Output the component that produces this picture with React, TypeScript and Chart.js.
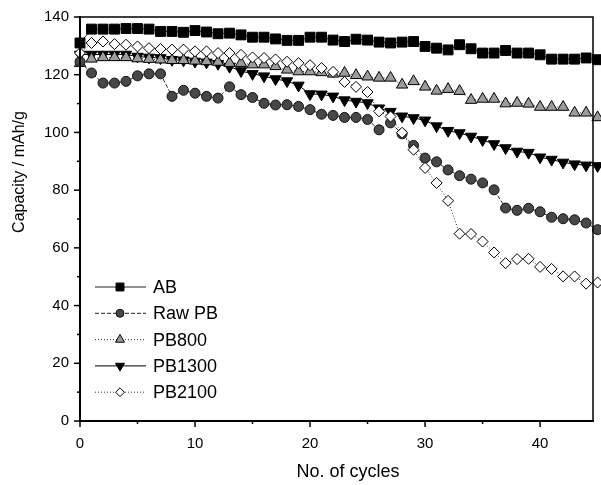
import React, { useEffect, useRef } from 'react';
import { Chart, registerables } from 'chart.js';
import { drawPoint } from 'chart.js/helpers';

Chart.register(...registerables);

const cycles = [0, 1, 2, 3, 4, 5, 6, 7, 8, 9, 10, 11, 12, 13, 14, 15, 16, 17, 18, 19, 20, 21, 22, 23, 24, 25, 26, 27, 28, 29, 30, 31, 32, 33, 34, 35, 36, 37, 38, 39, 40, 41, 42, 43, 44, 45];

const abValues = [131, 135.8, 135.8, 135.8, 136, 136, 135.8, 135, 135, 134.7, 135.3, 134.8, 134.2, 134.4, 133.8, 133.0, 133.0, 132.4, 131.9, 131.9, 133.0, 133.0, 132, 131.5, 132.3, 132, 131.3, 131, 131.3, 131.5, 129.8, 129.2, 128.6, 130.4, 129, 127.5, 127.5, 128.4, 127.5, 127.5, 126.9, 125.4, 125.4, 125.4, 125.8, 125.2];

const rawPbValues = [124.5, 120.6, 117.1, 117.1, 117.7, 119.6, 120.3, 120.3, 112.5, 114.6, 113.6, 112.5, 111.9, 115.8, 113.1, 112.1, 110.1, 109.5, 109.6, 109, 107.9, 106.3, 105.9, 105.2, 105.2, 104.5, 100.9, 103.3, 99.5, 95.5, 91.1, 89.8, 87, 85, 83.8, 82.5, 80.1, 73.8, 73, 73.7, 72.5, 70.6, 70.1, 69.7, 68.6, 66.3];

const pb800Values = [124, 125.5, 126, 126, 126, 125.6, 125.4, 125.2, 125, 125, 124.8, 124.6, 124.4, 124, 124, 123.5, 123.5, 122.9, 121.7, 121.1, 121.1, 120.8, 120.3, 120.6, 119.8, 119.3, 118.9, 118.9, 116.5, 117.7, 115.8, 114.4, 115, 114.3, 111.2, 111.6, 111.6, 110, 110.2, 109.9, 108.8, 108.8, 108.8, 106.8, 106.8, 105.2];

const pb1300Values = [127, 127, 127, 127, 127, 126.3, 126, 125.8, 125.2, 125, 124.6, 124.3, 123.8, 122.8, 121.3, 120.3, 119.5, 118.5, 117.8, 116.3, 113.3, 113.2, 112.5, 111.2, 110.7, 110.2, 108.4, 107.2, 105.6, 105, 104.2, 102.2, 100.6, 99.8, 98.6, 97.4, 96, 94.6, 93.4, 93, 91.4, 90.6, 89.6, 89, 88.6, 88.4];

const pb2100Values = [127.5, 131, 131.5, 130.6, 130.4, 129.8, 129.2, 128.9, 128.7, 128.7, 128.1, 128.1, 127.5, 127.5, 126.9, 126, 125.8, 125.3, 124.5, 124, 123.3, 122.3, 121, 117.5, 115.8, 114, 107.3, 105.5, 99.9, 94, 87.7, 82.5, 76.3, 64.9, 64.8, 62.2, 58.4, 54.7, 56.1, 56.2, 53.4, 52.7, 50.1, 50.1, 47.6, 48];

const seriesNames = ['AB', 'Raw PB', 'PB800', 'PB1300', 'PB2100'];
const xTickValues = [0, 10, 20, 30, 40];
const yTickValues = [0, 20, 40, 60, 80, 100, 120, 140];
const xTitle = 'No. of cycles';
const yTitle = 'Capacity / mAh/g';

const FONT = '"Liberation Sans", Arial, Helvetica, sans-serif';

const styles = [
  { pointStyle: 'rect', rotation: 0, radius: 7, bg: '#000', border: '#000', dash: [], lineColor: '#222' },
  { pointStyle: 'circle', rotation: 0, radius: 5, bg: '#474747', border: '#111', dash: [4, 2], lineColor: '#222' },
  { pointStyle: 'triangle', rotation: 0, radius: 6.5, bg: '#9c9c9c', border: '#000', dash: [1, 2], lineColor: '#333' },
  { pointStyle: 'triangle', rotation: 180, radius: 6.5, bg: '#000', border: '#000', dash: [], lineColor: '#000' },
  { pointStyle: 'rectRot', rotation: 0, radius: 5.5, bg: '#fff', border: '#000', dash: [1, 2], lineColor: '#333' },
];

const allValues = [abValues, rawPbValues, pb800Values, pb1300Values, pb2100Values];

const decorPlugin = {
  id: 'decor',
  afterDatasetsDraw(chart: any) {
    const { ctx, chartArea: a, scales } = chart;
    const xs = scales.x;
    const ys = scales.y;
    ctx.save();
    ctx.strokeStyle = '#000';
    // frame
    ctx.lineWidth = 2;
    ctx.beginPath();
    ctx.moveTo(a.left, a.top - 1);
    ctx.lineTo(a.left, a.bottom);
    ctx.lineTo(a.right + 1, a.bottom);
    ctx.stroke();
    ctx.lineWidth = 1.5;
    ctx.beginPath();
    ctx.moveTo(a.left, a.top);
    ctx.lineTo(a.right, a.top);
    ctx.lineTo(a.right, a.bottom);
    ctx.stroke();
    // x ticks
    ctx.lineWidth = 1.5;
    for (let v = 0; v <= 45; v += 5) {
      const px = xs.getPixelForValue(v);
      if (px > a.right) break;
      const len = v % 10 === 0 ? 6 : 3;
      ctx.beginPath();
      ctx.moveTo(px, a.bottom);
      ctx.lineTo(px, a.bottom + len);
      ctx.stroke();
    }
    // y ticks
    for (let v = 0; v <= 140; v += 10) {
      const py = ys.getPixelForValue(v);
      const len = v % 20 === 0 ? 6 : 3;
      ctx.beginPath();
      ctx.moveTo(a.left, py);
      ctx.lineTo(a.left - len, py);
      ctx.stroke();
    }
    ctx.restore();
  },
  afterDraw(chart: any) {
    const { ctx } = chart;
    ctx.save();
    // legend
    const rowY0 = 287;
    const rowGap = 26.3;
    chart.data.datasets.forEach((ds: any, i: number) => {
      const y = rowY0 + i * rowGap;
      const st = styles[i];
      ctx.save();
      ctx.strokeStyle = st.lineColor;
      ctx.lineWidth = 1;
      ctx.setLineDash(st.dash);
      ctx.beginPath();
      ctx.moveTo(95, y);
      ctx.lineTo(146, y);
      ctx.stroke();
      ctx.setLineDash([]);
      ctx.fillStyle = st.bg;
      ctx.strokeStyle = st.border;
      ctx.lineWidth = 1;
      drawPoint(ctx, { pointStyle: st.pointStyle, rotation: st.rotation, radius: st.radius * 0.8, borderWidth: 1 }, 120, y);
      ctx.restore();
      ctx.fillStyle = '#000';
      ctx.font = `18px ${FONT}`;
      ctx.textAlign = 'left';
      ctx.textBaseline = 'middle';
      ctx.fillText(ds.label, 153, y + 1);
    });
    // axis titles
    ctx.fillStyle = '#000';
    ctx.font = `18px ${FONT}`;
    ctx.textAlign = 'center';
    ctx.textBaseline = 'middle';
    ctx.fillText(xTitle, 348, 472);
    ctx.translate(20, 172);
    ctx.rotate(-Math.PI / 2);
    ctx.font = `16px ${FONT}`;
    ctx.fillText(yTitle, 0, 0);
    ctx.restore();
  },
};

export default function App() {
  const canvasRef = useRef<HTMLCanvasElement | null>(null);

  useEffect(() => {
    const canvas = canvasRef.current;
    if (!canvas) return;
    const datasets = seriesNames.map((name, i) => {
      const st = styles[i];
      return {
        label: name,
        data: cycles.map((c, j) => ({ x: c, y: allValues[i][j] })),
        borderColor: st.lineColor,
        borderWidth: 1,
        borderDash: st.dash,
        backgroundColor: st.bg,
        pointStyle: st.pointStyle,
        rotation: st.rotation,
        pointRadius: st.radius,
        pointBackgroundColor: st.bg,
        pointBorderColor: st.border,
        pointBorderWidth: 1,
        tension: 0,
        clip: false,
        order: i === 4 ? -1 : i,
      };
    });

    const chart = new Chart(canvas, {
      type: 'line',
      data: { datasets },
      options: {
        animation: false,
        responsive: false,
        devicePixelRatio: 1,
        layout: { padding: { top: 17, right: 5, left: 0, bottom: 0 } },
        plugins: { legend: { display: false }, tooltip: { enabled: false } },
        scales: {
          x: {
            type: 'linear',
            min: 0,
            max: 44.6,
            grid: { display: false, drawTicks: true, tickLength: 5 },
            border: { display: false },
            afterFit: (s: any) => { s.height = 64; },
            afterBuildTicks: (s: any) => { s.ticks = xTickValues.map((v) => ({ value: v })); },
            ticks: {
              padding: 9,
              color: '#000',
              font: { family: FONT, size: 15 },
              maxRotation: 0,
              includeBounds: false,
              callback: (v: any) => String(v),
            },
          },
          y: {
            type: 'linear',
            min: 0,
            max: 140,
            grid: { display: false, drawTicks: true, tickLength: 5 },
            border: { display: false },
            afterFit: (s: any) => { s.width = 80; },
            afterBuildTicks: (s: any) => { s.ticks = yTickValues.map((v) => ({ value: v })); },
            ticks: {
              padding: 6,
              color: '#000',
              font: { family: FONT, size: 15 },
              callback: (v: any) => String(v),
            },
          },
        },
      },
      plugins: [decorPlugin],
    } as any);
    return () => chart.destroy();
  }, []);

  return (
    <div style={{ position: 'absolute', left: 0, top: 0, width: 601, height: 485, background: '#fff' }}>
      <canvas ref={canvasRef} width={601} height={485} style={{ display: 'block', width: 601, height: 485 }} />
    </div>
  );
}
